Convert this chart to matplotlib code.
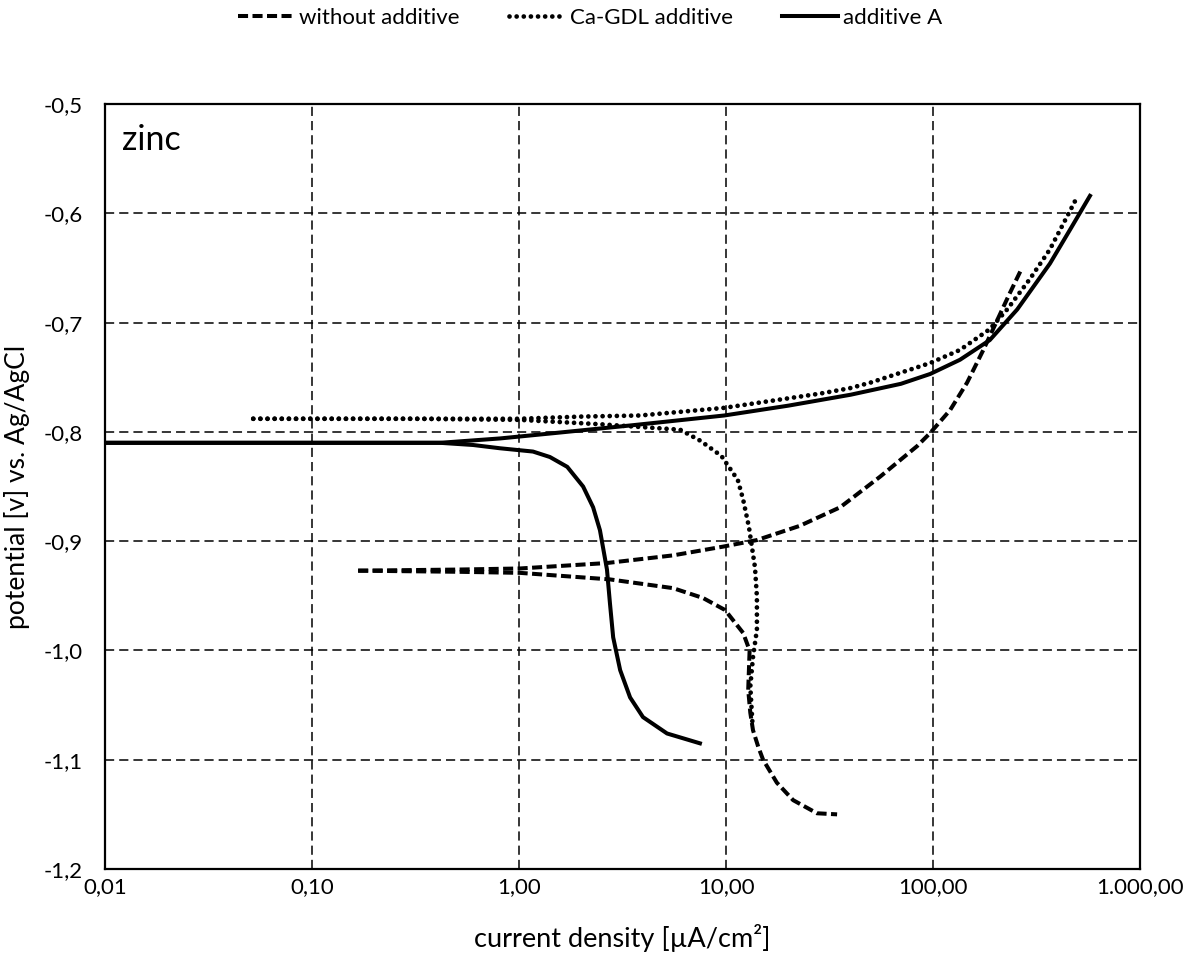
import matplotlib
matplotlib.use("Agg")
from matplotlib import pyplot as plt

plt.rcParams["font.family"] = ["Lato", "DejaVu Sans"]

# without additive (dashed)
wo_anodic_x = [0.167, 0.5, 1.01, 2.66, 5.55, 9.68, 14.1, 22.7, 35.6, 55.5, 83.8, 96.9, 121, 146,
               175, 204, 235, 269]
wo_anodic_y = [-0.927, -0.926, -0.925, -0.920, -0.913, -0.905, -0.899, -0.886, -0.869, -0.841,
               -0.813, -0.801, -0.780, -0.755, -0.725, -0.698, -0.673, -0.650]
wo_cathodic_x = [0.167, 0.5, 1.01, 2.75, 5.55, 7.74, 9.89, 12.1, 13.0, 12.8, 13.1, 13.5, 14.3,
                 15.1, 17.6, 21.1, 27.5, 34.4]
wo_cathodic_y = [-0.927, -0.928, -0.929, -0.935, -0.943, -0.952, -0.963, -0.984, -1.000, -1.036,
                 -1.057, -1.073, -1.088, -1.100, -1.121, -1.137, -1.149, -1.150]

# Ca-GDL additive (dotted)
ca_anodic_x = [0.052, 0.3, 1.0, 2.0, 3.85, 9.8, 28.4, 39.7, 49.7, 96.9, 135, 188, 228, 294, 367,
               444, 497]
ca_anodic_y = [-0.788, -0.788, -0.788, -0.786, -0.785, -0.778, -0.765, -0.760, -0.755, -0.737,
               -0.725, -0.706, -0.688, -0.660, -0.633, -0.603, -0.585]
ca_cathodic_x = [0.052, 0.3, 1.01, 2.46, 6.0, 7.5, 9.5, 11.4, 12.1, 12.9, 13.8, 14.1, 14.1, 13.5,
                 13.1, 13.4]
ca_cathodic_y = [-0.788, -0.788, -0.789, -0.793, -0.798, -0.808, -0.822, -0.844, -0.862, -0.887,
                 -0.924, -0.951, -0.981, -1.006, -1.033, -1.065]

# additive A (solid)
a_anodic_x = [0.01, 0.1, 0.415, 0.81, 1.5, 3.5, 9.8, 20, 40, 70, 96.9, 135, 188, 255, 367, 459,
              573]
a_anodic_y = [-0.810, -0.810, -0.810, -0.806, -0.801, -0.794, -0.785, -0.776, -0.766, -0.756,
              -0.747, -0.734, -0.716, -0.688, -0.646, -0.615, -0.584]
a_cathodic_x = [0.01, 0.1, 0.415, 0.6, 0.81, 1.168, 1.41, 1.71, 2.04, 2.28, 2.46, 2.66, 2.75,
                2.85, 3.08, 3.44, 3.97, 5.19, 7.48]
a_cathodic_y = [-0.810, -0.810, -0.810, -0.812, -0.815, -0.818, -0.823, -0.832, -0.850, -0.869,
                -0.890, -0.926, -0.957, -0.988, -1.018, -1.043, -1.061, -1.076, -1.085]

x_ticks = [0.01, 0.1, 1, 10, 100, 1000]
x_tick_labels = ["0,01", "0,10", "1,00", "10,00", "100,00", "1.000,00"]
y_ticks = [-1.2, -1.1, -1.0, -0.9, -0.8, -0.7, -0.6, -0.5]
y_tick_labels = ["-1,2", "-1,1", "-1,0", "-0,9", "-0,8", "-0,7", "-0,6", "-0,5"]

DASHED = (0, (2.5, 1.1))
DOTTED = (0, (0.01, 1.5))
LW = 2.9
LW_DOT = 3.4

fig = plt.figure(figsize=(11.92, 9.58), dpi=100)
ax = fig.add_axes([0.0881, 0.0929, 0.8683, 0.7985])

ax.plot(wo_cathodic_x, wo_cathodic_y, color="black", linewidth=LW, linestyle=DASHED)
ax.plot(wo_anodic_x, wo_anodic_y, color="black", linewidth=LW, linestyle=DASHED,
        label="without additive")
ax.plot(ca_cathodic_x, ca_cathodic_y, color="black", linewidth=LW_DOT, linestyle=DOTTED,
        dash_capstyle="round")
ax.plot(ca_anodic_x, ca_anodic_y, color="black", linewidth=LW_DOT, linestyle=DOTTED,
        dash_capstyle="round", label="Ca-GDL additive")
ax.plot(a_cathodic_x, a_cathodic_y, color="black", linewidth=LW)
ax.plot(a_anodic_x, a_anodic_y, color="black", linewidth=LW, label="additive A")

ax.set_xscale("log")
ax.set_xlim(0.01, 1000)
ax.set_ylim(-1.2, -0.5)
ax.set_xticks(x_ticks, labels=x_tick_labels)
ax.set_yticks(y_ticks, labels=y_tick_labels)
ax.minorticks_off()
ax.tick_params(axis="both", length=0, labelsize=16)
ax.tick_params(axis="x", pad=6)
ax.tick_params(axis="y", pad=16)
ax.grid(True, color="black", linewidth=1.1, linestyle=(0, (6, 3.3)))
ax.set_axisbelow(True)
for spine in ax.spines.values():
    spine.set_linewidth(1.6)

ax.set_xlabel("current density [µA/cm²]", fontsize=19.5, labelpad=19)
ax.set_ylabel("potential [v] vs. Ag/AgCl", fontsize=19, labelpad=10)
ax.text(0.016, 0.953, "zinc", transform=ax.transAxes, fontsize=24.5, va="center", ha="left")

fig.legend(loc="center", bbox_to_anchor=(0.495, 0.981), ncol=3, frameon=False,
           fontsize=16, handlelength=2.55, handletextpad=0.2, columnspacing=2.2)

fig.savefig("out.png", dpi=100)
plt.close()
